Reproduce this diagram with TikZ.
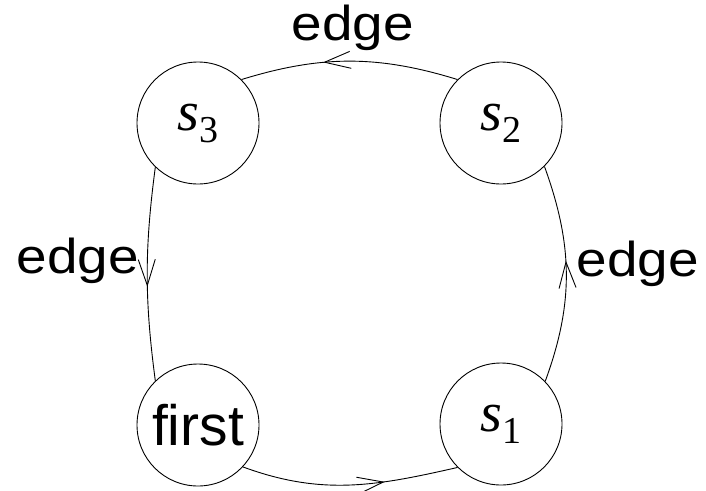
\documentclass[tikz,border=0pt]{standalone}
\usepackage{fontspec}
\newfontfamily\sansf{Liberation Sans}
\newfontfamily\seriff{Liberation Serif}
\usetikzlibrary{arrows.meta,decorations.markings}
\tikzset{
  state/.style={circle,draw,line width=0.9pt,minimum size=122pt,inner sep=0pt},
  slabel/.style={font=\seriff\fontsize{56}{56}\selectfont},
  elabel/.style={font=\sansf\fontsize{49}{49}\selectfont,anchor=base,inner sep=0pt,xscale=1.12},
  conn/.style={line width=0.9pt,postaction={decorate,decoration={markings,
     mark=at position #1 with {\arrow{Straight Barb[length=26pt,width=17pt,line width=0.9pt]}}}}}
}
\newcommand{\stxt}[1]{{\itshape s}\raisebox{-12pt}{\fontsize{38}{38}\selectfont\upshape #1}}
\begin{document}
\begin{tikzpicture}[x=1pt,y=-1pt]
\useasboundingbox (0,0) rectangle (706,490);
\node[state,slabel] (s3) at (198,123) {\stxt{3}};
\node[state,slabel] (s2) at (501,123) {\stxt{2}};
\node[state,font=\sansf\fontsize{57}{57}\selectfont] (first) at (198,425) {first};
\node[state,slabel] (s1) at (501,424) {\stxt{1}};
\draw[conn=0.62] (s2.135) .. controls (378,55) and (321,55) .. (s3.45);
\draw[conn=0.56] (s3.226) .. controls (144.5,249) and (144.5,299) .. (first.134);
\draw[conn=0.56] (s1.44) .. controls (574,303) and (573,245) .. (s2.315);
\draw[conn=0.66] (first.317) .. controls (322,496) and (376,486) .. (s1.225);
\node[elabel] (lt) at (353,40) {edge};
\node[elabel] (ll) at (78,273) {edge};
\node[elabel] (lr) at (638,276) {edge};
\end{tikzpicture}
\end{document}
